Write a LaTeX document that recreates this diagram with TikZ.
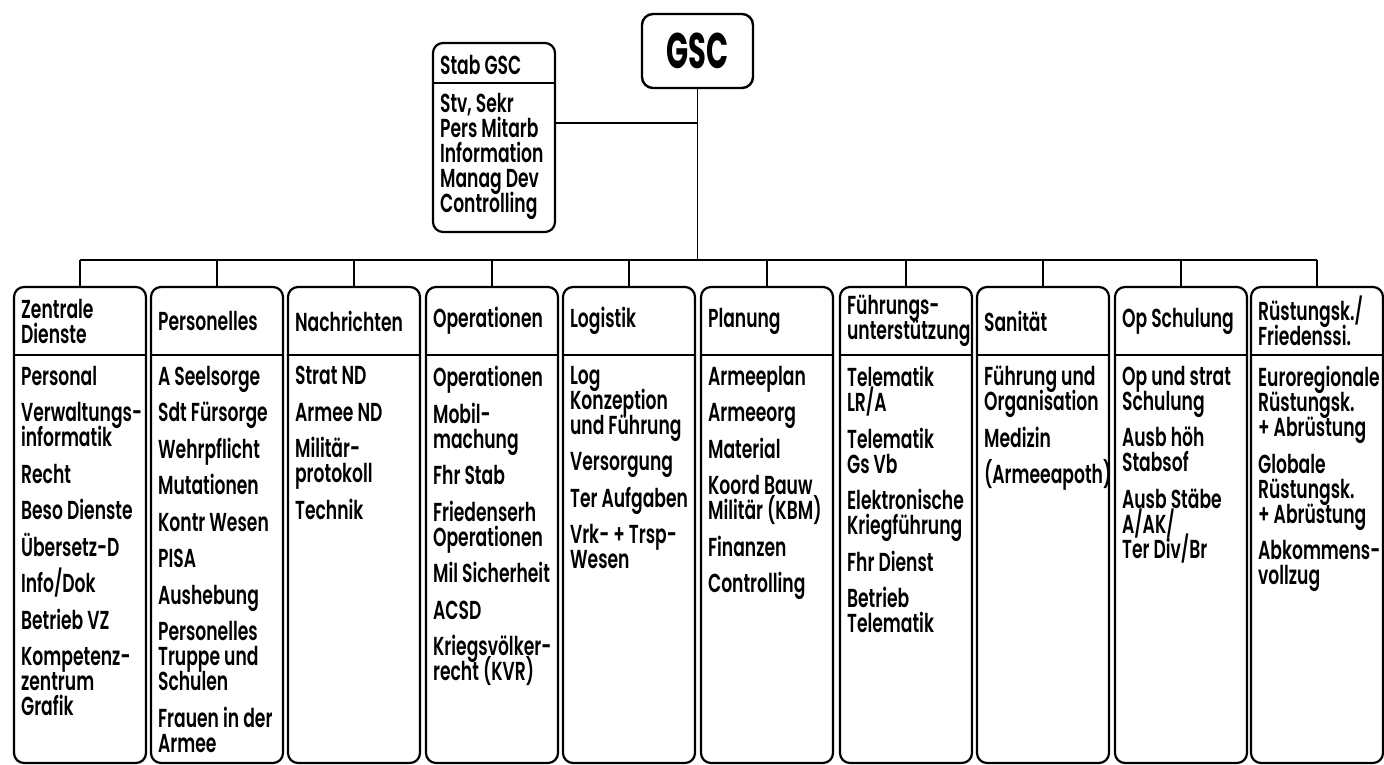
\documentclass[tikz,border=0pt]{standalone}
\usepackage{fontspec}
\setmainfont{Poppins}[FakeStretch=0.66,UprightFont=* SemiBold]
\newfontfamily\gscfont{Poppins}[FakeStretch=0.58,UprightFont=* Bold]
\lineskiplimit=-100pt

\tikzset{
  colbox/.style={draw,line width=2.2pt,rounded corners=10pt,minimum width=132pt,minimum height=476pt,inner sep=0pt},
  stabbox/.style={draw,line width=2.2pt,rounded corners=10pt,minimum width=122pt,minimum height=189pt,inner sep=0pt},
  chief/.style={draw,line width=2.4pt,rounded corners=11pt,minimum width=111pt,minimum height=74pt,inner sep=0pt,font=\gscfont\fontsize{50}{50}\selectfont},
  head/.style={anchor=west,xshift=8pt,inner sep=0pt,align=left,font=\fontsize{26}{25}\selectfont},
  items/.style={anchor=north west,xshift=8pt,inner sep=0pt,align=left,font=\fontsize{26}{25}\selectfont},
  link/.style={line width=1.3pt},
  sep/.style={line width=1.3pt}
}

\begin{document}
\begin{tikzpicture}[x=1pt,y=-1pt]
	\useasboundingbox (0,0) rectangle (1384,765);
	
	% top
	\node[chief] (gsc) at (697.5,51) {GSC};
	\node[stabbox] (stab) at (494,137.5) {};
	\draw[sep] (stab.west |- 0,83) -- (stab.east |- 0,83);
	\node[head] (stabh) at (stab.west |- 0,65) {Stab GSC};
	\node[items] (stabi) at (stab.west |- 0,93) {Stv, Sekr\\Pers Mitarb\\Information\\Manag Dev\\Controlling};
	\coordinate (stabjoin) at (697.5,123);
	\coordinate (bus) at (697.5,260);
	\draw[link] (gsc.south) -- (bus);
	\draw[link] (stab.east |- stabjoin) -- (stabjoin);
	
	% columns
	\node[colbox] (zd) at (80,525) {};
	\node[colbox] (pers) at (217,525) {};
	\node[colbox] (nd) at (354,525) {};
	\node[colbox] (op) at (492,525) {};
	\node[colbox] (log) at (629,525) {};
	\node[colbox] (plan) at (767,525) {};
	\node[colbox] (fu) at (906,525) {};
	\node[colbox] (san) at (1043,525) {};
	\node[colbox] (ops) at (1181,525) {};
	\node[colbox] (rk) at (1317,525) {};
	
	\draw[link] (zd.north |- bus) -- (rk.north |- bus);
	\draw[link] (zd.north |- bus) -- (zd.north);
	\draw[link] (pers.north |- bus) -- (pers.north);
	\draw[link] (nd.north |- bus) -- (nd.north);
	\draw[link] (op.north |- bus) -- (op.north);
	\draw[link] (log.north |- bus) -- (log.north);
	\draw[link] (plan.north |- bus) -- (plan.north);
	\draw[link] (fu.north |- bus) -- (fu.north);
	\draw[link] (san.north |- bus) -- (san.north);
	\draw[link] (ops.north |- bus) -- (ops.north);
	\draw[link] (rk.north |- bus) -- (rk.north);
	
	\draw[sep] (zd.west |- 0,355) -- (zd.east |- 0,355);
	\draw[sep] (pers.west |- 0,355) -- (pers.east |- 0,355);
	\draw[sep] (nd.west |- 0,355) -- (nd.east |- 0,355);
	\draw[sep] (op.west |- 0,355) -- (op.east |- 0,355);
	\draw[sep] (log.west |- 0,355) -- (log.east |- 0,355);
	\draw[sep] (plan.west |- 0,355) -- (plan.east |- 0,355);
	\draw[sep] (fu.west |- 0,355) -- (fu.east |- 0,355);
	\draw[sep] (san.west |- 0,355) -- (san.east |- 0,355);
	\draw[sep] (ops.west |- 0,355) -- (ops.east |- 0,355);
	\draw[sep] (rk.west |- 0,355) -- (rk.east |- 0,355);
	
	\node[head] (zdh) at (zd.west |- 0,321) {Zentrale\\Dienste};
	\node[head] (persh) at (pers.west |- 0,321) {Personelles};
	\node[head] (ndh) at (nd.west |- 0,321) {Nachrichten};
	\node[head] (oph) at (op.west |- 0,321) {Operationen};
	\node[head] (logh) at (log.west |- 0,321) {Logistik};
	\node[head] (planh) at (plan.west |- 0,321) {Planung};
	\node[head] (fuh) at (fu.west |- 0,321) {Führungs-\\unterstützung};
	\node[head] (sanh) at (san.west |- 0,321) {Sanität};
	\node[head] (opsh) at (ops.west |- 0,321) {Op Schulung};
	\node[head] (rkh) at (rk.west |- 0,321) {Rüstungsk./\\Friedenssi.};
	
	\node[items] (zdi) at (zd.west |- 0,366) {Personal\\[11.5pt]Verwaltungs-\\informatik\\[11.5pt]Recht\\[11.5pt]Beso Dienste\\[11.5pt]Übersetz-D\\[11.5pt]Info/Dok\\[11.5pt]Betrieb VZ\\[11.5pt]Kompetenz-\\zentrum\\Grafik};
	\node[items] (persi) at (pers.west |- 0,366) {A Seelsorge\\[11.5pt]Sdt Fürsorge\\[11.5pt]Wehrpflicht\\[11.5pt]Mutationen\\[11.5pt]Kontr Wesen\\[11.5pt]PISA\\[11.5pt]Aushebung\\[11.5pt]Personelles\\Truppe und\\Schulen\\[11.5pt]Frauen in der\\Armee};
	\node[items] (ndi) at (nd.west |- 0,366) {Strat ND\\[11.5pt]Armee ND\\[11.5pt]Militär-\\protokoll\\[11.5pt]Technik};
	\node[items] (opi) at (op.west |- 0,366) {Operationen\\[11.5pt]Mobil-\\machung\\[11.5pt]Fhr Stab\\[11.5pt]Friedenserh\\Operationen\\[11.5pt]Mil Sicherheit\\[11.5pt]ACSD\\[11.5pt]Kriegsvölker-\\recht (KVR)};
	\node[items] (logi) at (log.west |- 0,366) {Log\\Konzeption\\und Führung\\[11.5pt]Versorgung\\[11.5pt]Ter Aufgaben\\[11.5pt]Vrk- + Trsp-\\Wesen};
	\node[items] (plani) at (plan.west |- 0,366) {Armeeplan\\[11.5pt]Armeeorg\\[11.5pt]Material\\[11.5pt]Koord Bauw\\Militär (KBM)\\[11.5pt]Finanzen\\[11.5pt]Controlling};
	\node[items] (fui) at (fu.west |- 0,366) {Telematik\\LR/A\\[11.5pt]Telematik\\Gs Vb\\[11.5pt]Elektronische\\Kriegführung\\[11.5pt]Fhr Dienst\\[11.5pt]Betrieb\\Telematik};
	\node[items] (sani) at (san.west |- 0,366) {Führung und\\Organisation\\[11.5pt]Medizin\\[11.5pt](Armeeapoth)};
	\node[items] (opsi) at (ops.west |- 0,366) {Op und strat\\Schulung\\[11.5pt]Ausb höh\\Stabsof\\[11.5pt]Ausb Stäbe\\A/AK/\\Ter Div/Br};
	\node[items] (rki) at (rk.west |- 0,366) {Euroregionale\\Rüstungsk.\\+ Abrüstung\\[11.5pt]Globale\\Rüstungsk.\\+ Abrüstung\\[11.5pt]Abkommens-\\vollzug};
	
\end{tikzpicture}
\end{document}
